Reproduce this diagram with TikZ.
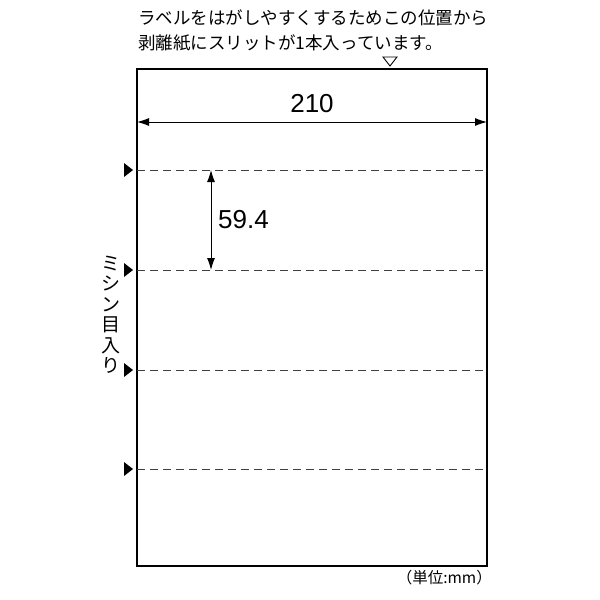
\documentclass[tikz,border=0pt]{standalone}
\usepackage{fontspec}
\newfontfamily\jp{Noto Sans CJK JP}
\setmainfont{Liberation Sans}
\usetikzlibrary{arrows.meta}
\begin{document}
\begin{tikzpicture}[x=1pt,y=-1pt,
  sheet/.style={draw=black,line width=1.3pt},
  perf/.style={draw=black!75,line width=1pt,dash pattern=on 8pt off 5pt},
  pointer/.style={fill=black,draw=none},
  dim/.style={line width=1pt,{Latex[length=12pt,width=8pt]}-{Latex[length=12pt,width=8pt]}},
  jtext/.style={font=\jp\fontsize{17.5}{22}\selectfont,inner sep=0pt},
  num/.style={font=\fontsize{26}{28}\selectfont,inner sep=0pt}]
\useasboundingbox (0,0) rectangle (600,600);
% sheet
\coordinate (tl) at (137,69);
\coordinate (br) at (487,566);
\draw[sheet] (tl) rectangle (br);
% perforations
\foreach \y/\n in {170/a,270/b,370/c,469/d}{
  \coordinate (L\n) at (137,\y);
  \coordinate (R\n) at (487,\y);
  \draw[perf] (L\n) -- (R\n);
  \fill[pointer] (124,\y-7) -- (133,\y) -- (124,\y+7) -- cycle;
}
% width dimension
\coordinate (wl) at (137,122);
\coordinate (wr) at (487,122);
\draw[dim] (wl) -- (wr);
\node[num] (w) at (312,104) {210};
% height dimension
\coordinate (ht) at (211,170);
\coordinate (hb) at (211,270);
\draw[dim] (ht) -- (hb);
\node[num,anchor=west] (h) at (218,220) {59.4};
% slit marker
\draw[line width=0.9pt] (383,57) -- (397,57) -- (390,66) -- cycle;
% top text
\node[jtext,anchor=west] (t1) at (138,18) {ラベルをはがしやすくするためこの位置から};
\node[jtext,anchor=west] (t2) at (138,43) {剥離紙にスリットが1本入っています。};
% vertical label
\node[jtext,align=center,font=\jp\fontsize{19}{20.5}\selectfont] (v) at (111,315) {ミ\\シ\\ン\\目\\入\\り};
% unit
\node[jtext,font=\jp\fontsize{15.5}{17}\selectfont,anchor=east] (u) at (492,578) {（単位:mm）};
\end{tikzpicture}
\end{document}
